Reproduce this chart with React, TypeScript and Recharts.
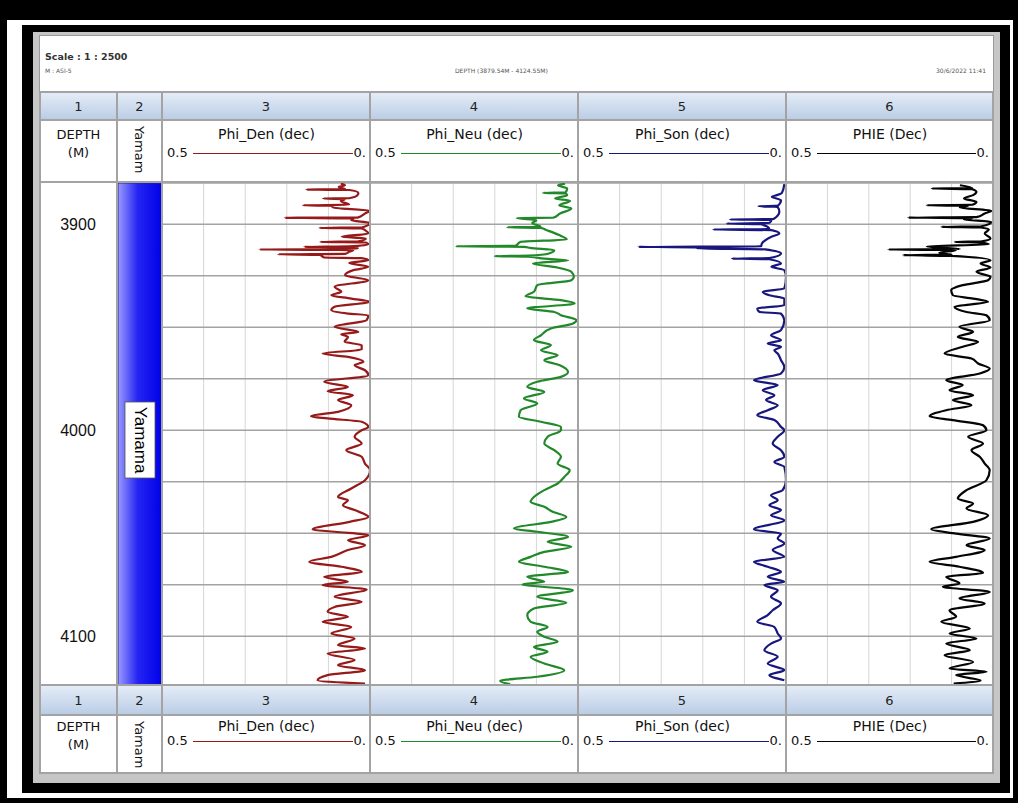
import React from "react";
import {
  CartesianGrid,
  Line,
  LineChart,
  ReferenceArea,
  XAxis,
  YAxis,
} from "recharts";

// plotted depth window (m) and grid
const depthTop = 3880;
const depthBottom = 4123.7;
const depthGrid = [3900, 3925, 3950, 3975, 4000, 4025, 4050, 4075, 4100];
const depthLabels = [3900, 4000, 4100];
const phiGrid = [0, 0.1, 0.2, 0.3, 0.4, 0.5];

const zoneName = "Yamama";
const zoneTop = 3880;
const zoneBottom = 4123.7;

const trackNumbers = ["1", "2", "3", "4", "5", "6"];
const curveNames = ["Phi_Den (dec)", "Phi_Neu (dec)", "Phi_Son (dec)", "PHIE (Dec)"];
const curveColors = ["#961a1a", "#22892a", "#17177e", "#050505"];
const scaleLeft = "0.5";
const scaleRight = "0.";

// [depth m, porosity dec]
const phiDen = [
  [3880.3, 0.07], [3881.1, 0.06], [3881.9, 0.075], [3883.0, 0.06], [3883.2, 0.153],
  [3883.4, 0.05], [3884.8, 0.028], [3885.9, 0.03], [3887.4, 0.05], [3887.5, 0.113],
  [3887.9, 0.06], [3888.7, 0.07], [3890.6, 0.05], [3890.8, 0.161], [3891.1, 0.09],
  [3891.9, 0.09], [3893.5, 0.0], [3894.8, 0.012], [3896.8, 0.03], [3896.9, 0.205],
  [3897.2, 0.04], [3898.1, 0.045], [3899.4, 0.0], [3901.6, 0.02], [3901.8, 0.121],
  [3902.1, 0.02], [3902.9, 0.012], [3904.5, 0.004], [3906.1, 0.068], [3906.9, 0.01],
  [3908.4, 0.03], [3908.6, 0.119], [3908.9, 0.01], [3909.7, 0.004], [3910.8, 0.05],
  [3911.0, 0.158], [3911.3, 0.03], [3912.1, 0.03], [3912.3, 0.266], [3912.6, 0.04],
  [3913.4, 0.05], [3914.4, 0.06], [3914.6, 0.221], [3914.9, 0.12], [3916.2, 0.11],
  [3916.5, 0.02], [3917.5, 0.004], [3918.8, 0.05], [3920.7, 0.004], [3922.3, 0.04],
  [3924.8, 0.06], [3927.2, 0.004], [3930.4, 0.085], [3932.8, 0.069],
  [3934.5, 0.093], [3936.1, 0.045], [3937.7, 0.0], [3940.1, 0.085], [3941.7, 0.093],
  [3943.4, 0.053], [3944.2, 0.004], [3946.6, 0.008], [3949.8, 0.085], [3952.3, 0.028],
  [3953.4, 0.069], [3954.7, 0.053], [3957.1, 0.061], [3958.7, 0.02], [3960.8, 0.02],
  [3962.8, 0.114], [3964.4, 0.053], [3966.8, 0.016], [3968.4, 0.037], [3970.9, 0.012],
  [3973.3, 0.004], [3976.5, 0.11], [3979.0, 0.053], [3981.1, 0.102], [3983.0, 0.041],
  [3985.4, 0.077], [3987.9, 0.045], [3991.1, 0.077], [3993.2, 0.142], [3994.3, 0.102],
  [3995.9, 0.02], [3998.4, 0.004], [4000.0, 0.02], [4003.2, 0.037], [4006.5, 0.02],
  [4009.7, 0.057], [4012.9, 0.02], [4016.2, 0.012], [4019.4, 0.0], [4024.3, 0.012],
  [4028.3, 0.045], [4032.4, 0.077], [4034.0, 0.053], [4036.4, 0.065], [4038.8, 0.037],
  [4042.1, 0.004], [4044.5, 0.049], [4048.2, 0.138], [4049.3, 0.085], [4051.0, 0.004],
  [4053.4, 0.053], [4055.8, 0.012], [4058.2, 0.053], [4061.5, 0.093], [4063.9, 0.146],
  [4066.3, 0.069], [4068.8, 0.02], [4071.2, 0.11], [4073.6, 0.053], [4075.2, 0.114],
  [4077.3, 0.008], [4080.9, 0.085], [4083.3, 0.02], [4085.8, 0.085], [4088.2, 0.102],
  [4090.6, 0.053], [4093.0, 0.114], [4095.5, 0.045], [4098.7, 0.093], [4101.1, 0.037],
  [4104.4, 0.077], [4106.0, 0.012], [4108.4, 0.102], [4111.6, 0.037], [4114.1, 0.077],
  [4116.5, 0.012], [4118.9, 0.102], [4121.4, 0.126], [4123.0, 0.012],
];

const phiNeu = [
  [3880.3, 0.031], [3881.1, 0.048], [3882.7, 0.026], [3884.6, 0.03], [3884.8, 0.084],
  [3885.1, 0.03], [3885.9, 0.026], [3887.5, 0.055], [3888.7, 0.019], [3890.8, 0.045],
  [3892.4, 0.016], [3894.8, 0.043], [3896.9, 0.06], [3897.0, 0.147], [3898.1, 0.1],
  [3899.4, 0.11], [3901.3, 0.09], [3901.5, 0.171], [3901.8, 0.09], [3902.9, 0.075],
  [3905.3, 0.045], [3907.4, 0.027], [3908.6, 0.139], [3910.5, 0.15], [3910.7, 0.292],
  [3911.0, 0.13], [3911.5, 0.115], [3912.6, 0.057], [3914.2, 0.07], [3915.3, 0.12],
  [3915.5, 0.2], [3915.8, 0.12], [3916.7, 0.081], [3917.5, 0.024], [3919.1, 0.108],
  [3921.0, 0.05], [3923.1, 0.016], [3925.6, 0.01], [3927.2, 0.016], [3929.6, 0.098],
  [3932.8, 0.106], [3935.0, 0.126], [3936.9, 0.041],
  [3938.5, 0.008], [3940.9, 0.122], [3942.6, 0.057], [3944.2, 0.041], [3946.6, 0.004],
  [3948.2, 0.012], [3950.6, 0.065], [3953.9, 0.089], [3956.3, 0.106], [3958.7, 0.065],
  [3961.2, 0.089], [3963.6, 0.049], [3966.0, 0.081], [3968.4, 0.045], [3971.7, 0.024],
  [3974.1, 0.041], [3976.5, 0.098], [3979.0, 0.122], [3981.4, 0.081], [3984.6, 0.13],
  [3987.0, 0.098], [3990.3, 0.138], [3993.5, 0.142], [3995.9, 0.089], [3998.4, 0.041],
  [4000.0, 0.041], [4003.2, 0.073], [4006.5, 0.081], [4009.7, 0.057], [4012.9, 0.041],
  [4016.2, 0.049], [4019.4, 0.02], [4022.7, 0.033], [4025.9, 0.049], [4029.1, 0.081],
  [4032.4, 0.106], [4034.8, 0.114], [4037.2, 0.081], [4039.6, 0.061], [4042.1, 0.028],
  [4044.5, 0.065], [4047.7, 0.154], [4049.3, 0.098], [4051.8, 0.024], [4054.2, 0.073],
  [4056.6, 0.016], [4059.1, 0.081], [4061.5, 0.114], [4063.9, 0.142], [4066.3, 0.081],
  [4068.8, 0.024], [4071.2, 0.122], [4073.6, 0.081], [4074.8, 0.134], [4077.7, 0.012],
  [4080.9, 0.098], [4083.8, 0.028], [4086.6, 0.106], [4089.8, 0.122], [4093.0, 0.114],
  [4095.5, 0.073], [4097.9, 0.098], [4100.3, 0.081], [4102.7, 0.049], [4105.2, 0.106],
  [4107.6, 0.073], [4110.0, 0.114], [4113.3, 0.081], [4116.5, 0.033], [4119.7, 0.098],
  [4121.7, 0.187], [4123.3, 0.163],
];

const phiSon = [
  [3880.5, 0.004], [3884.9, 0.01], [3885.9, 0.022], [3886.7, 0.034], [3888.4, 0.012],
  [3891.1, 0.02], [3891.3, 0.066], [3891.6, 0.02], [3894.0, 0.016], [3897.5, 0.03],
  [3897.7, 0.135], [3898.0, 0.035], [3899.4, 0.04], [3899.7, 0.143], [3900.0, 0.06],
  [3902.4, 0.04], [3902.6, 0.175], [3902.9, 0.035], [3904.5, 0.016], [3906.1, 0.035],
  [3909.4, 0.058], [3910.8, 0.06], [3911.0, 0.355], [3911.3, 0.2], [3911.8, 0.215],
  [3912.2, 0.05], [3914.2, 0.012], [3916.5, 0.04], [3916.7, 0.13], [3917.0, 0.04],
  [3919.1, 0.012], [3920.7, 0.035], [3922.3, 0.004], [3925.6, 0.0],
  [3931.2, 0.004], [3932.8, 0.056], [3934.5, 0.04],
  [3936.1, 0.004], [3939.3, 0.004], [3940.9, 0.069], [3942.6, 0.064], [3943.4, 0.012],
  [3946.6, 0.004], [3951.4, 0.012], [3953.9, 0.036], [3956.3, 0.012], [3957.9, 0.044],
  [3959.5, 0.012], [3961.2, 0.028], [3962.8, 0.02], [3966.0, 0.012], [3969.3, 0.004],
  [3972.5, 0.012], [3975.7, 0.077], [3978.1, 0.02], [3980.6, 0.056], [3983.0, 0.028],
  [3985.4, 0.048], [3987.9, 0.02], [3990.3, 0.044], [3992.7, 0.069], [3995.1, 0.028],
  [3998.4, 0.012], [4000.0, 0.004], [4003.2, 0.02], [4006.5, 0.032], [4009.7, 0.012],
  [4012.9, 0.004], [4015.4, 0.028], [4017.8, 0.004], [4024.3, 0.0], [4029.1, 0.008],
  [4031.6, 0.036], [4034.0, 0.02], [4036.4, 0.04], [4038.8, 0.012], [4041.3, 0.036],
  [4043.7, 0.004], [4048.2, 0.077], [4050.2, 0.012], [4052.6, 0.02], [4055.0, 0.004],
  [4058.2, 0.032], [4061.5, 0.004], [4063.9, 0.077], [4066.3, 0.044], [4068.8, 0.012],
  [4071.2, 0.044], [4073.6, 0.004], [4075.2, 0.052], [4077.7, 0.02], [4080.9, 0.036],
  [4084.1, 0.012], [4087.4, 0.032], [4089.8, 0.044], [4093.0, 0.069], [4095.5, 0.028],
  [4098.7, 0.02], [4101.1, 0.012], [4103.6, 0.036], [4106.8, 0.052], [4110.0, 0.02],
  [4113.3, 0.044], [4116.5, 0.004], [4118.9, 0.04], [4121.4, 0.004],
];

const phie = [
  [3881.1, 0.08], [3882.5, 0.05], [3882.7, 0.148], [3883.0, 0.05], [3884.3, 0.04],
  [3885.9, 0.048], [3887.5, 0.07], [3889.2, 0.04], [3890.6, 0.05], [3890.8, 0.16],
  [3891.1, 0.06], [3891.9, 0.08], [3893.5, 0.004], [3894.8, 0.02], [3896.6, 0.04],
  [3896.8, 0.205], [3897.1, 0.05], [3897.7, 0.07], [3898.9, 0.004], [3901.1, 0.03],
  [3901.3, 0.124], [3901.6, 0.03], [3902.6, 0.01], [3904.5, 0.02], [3906.9, 0.006],
  [3908.4, 0.03], [3908.6, 0.092], [3908.9, 0.03], [3909.7, 0.01], [3910.8, 0.16],
  [3912.1, 0.08], [3912.3, 0.253], [3912.6, 0.09], [3913.9, 0.13], [3914.8, 0.1],
  [3915.0, 0.217], [3915.4, 0.1], [3917.5, 0.006], [3919.1, 0.03], [3921.0, 0.006],
  [3923.1, 0.04], [3925.6, 0.006], [3927.2, 0.012], [3929.6, 0.073], [3932.0, 0.101],
  [3934.5, 0.097],
  [3936.1, 0.048], [3937.7, 0.012], [3940.1, 0.093], [3942.6, 0.064], [3944.2, 0.016],
  [3946.6, 0.008], [3949.8, 0.081], [3952.3, 0.048], [3954.7, 0.085], [3957.1, 0.036],
  [3959.5, 0.073], [3962.8, 0.117], [3965.2, 0.052], [3967.6, 0.036], [3970.1, 0.008],
  [3972.5, 0.032], [3975.7, 0.113], [3978.1, 0.073], [3980.6, 0.105], [3983.0, 0.048],
  [3985.4, 0.097], [3987.9, 0.052], [3990.3, 0.113], [3993.2, 0.153], [3995.1, 0.097],
  [3997.6, 0.024], [4000.0, 0.016], [4003.2, 0.06], [4006.5, 0.024], [4009.7, 0.052],
  [4012.9, 0.032], [4016.2, 0.02], [4019.4, 0.008], [4024.3, 0.016], [4029.1, 0.064],
  [4033.2, 0.085], [4035.6, 0.048], [4038.0, 0.064], [4041.3, 0.012], [4044.5, 0.048],
  [4048.1, 0.149], [4050.2, 0.089], [4052.6, 0.008], [4055.8, 0.064], [4058.2, 0.02],
  [4061.5, 0.089], [4063.9, 0.153], [4066.3, 0.081], [4069.3, 0.024], [4071.2, 0.113],
  [4074.4, 0.081], [4076.0, 0.121], [4078.5, 0.008], [4081.7, 0.081], [4084.1, 0.02],
  [4087.4, 0.105], [4090.6, 0.089], [4093.0, 0.125], [4096.3, 0.056], [4098.7, 0.105],
  [4101.1, 0.04], [4103.6, 0.113], [4106.8, 0.056], [4109.2, 0.117], [4112.5, 0.048],
  [4115.7, 0.105], [4117.3, 0.016], [4118.9, 0.089], [4121.5, 0.03], [4123.0, 0.095],
];

const curves = [phiDen, phiNeu, phiSon, phie];

// layout
const colX = [40, 117, 162, 370, 578, 786, 993];
const plotTop = 183;
const plotH = 502;
const gridLine = "#a3a3a3";

const toRows = (log: number[][]) => log.map(([depth, phi]) => ({ depth, phi }));

function CurveTrack({ log, color, width }: { log: number[][]; color: string; width: number }) {
  return (
    <LineChart
      width={width}
      height={plotH}
      data={toRows(log)}
      layout="vertical"
      margin={{ top: 0, right: 0, bottom: 0, left: 0 }}
    >
      <CartesianGrid horizontal={false} stroke="#d6d6d6" strokeWidth={1} />
      <CartesianGrid vertical={false} stroke={gridLine} strokeWidth={1.5} />
      <XAxis type="number" domain={[0, 0.5]} ticks={phiGrid} reversed hide allowDataOverflow />
      <YAxis
        type="number"
        dataKey="depth"
        domain={[depthTop, depthBottom]}
        ticks={depthGrid}
        hide
        allowDataOverflow
      />
      <Line
        type="monotone"
        dataKey="phi"
        stroke={color}
        strokeWidth={2.2}
        strokeLinejoin="round"
        dot={false}
        isAnimationActive={false}
      />
    </LineChart>
  );
}

function DepthTick(props: any) {
  const { y, payload } = props;
  return (
    <text
      x={38}
      y={y}
      textAnchor="middle"
      dominantBaseline="central"
      fontSize={16}
      fontFamily="Liberation Sans, Arial, sans-serif"
      fill="#111"
    >
      {payload.value}
    </text>
  );
}

function ZoneLabel(props: any) {
  const { viewBox } = props;
  if (!viewBox) return null;
  const cx = viewBox.x + viewBox.width / 2;
  const cy = viewBox.y + viewBox.height / 2 + 6;
  return (
    <g>
      <rect x={cx - 15} y={cy - 38} width={30} height={76} fill="#fff" stroke="#555" strokeWidth={0.8} />
      <text
        x={cx}
        y={cy}
        transform={`rotate(90 ${cx} ${cy})`}
        textAnchor="middle"
        dominantBaseline="central"
        fontSize={17}
        fontFamily="Liberation Sans, Arial, sans-serif"
        fill="#000"
      >
        {zoneName}
      </text>
    </g>
  );
}

function HeaderRows({ top, numH, labH, nameOff, scaleOff }: any) {
  const labTop = top + numH;
  return (
    <>
      <div
        style={{
          position: "absolute",
          left: colX[0],
          top,
          width: colX[6] - colX[0],
          height: numH,
          background: "linear-gradient(#e4ecf7, #b9cce5)",
        }}
      />
      {trackNumbers.map((n, i) => (
        <div
          key={"n" + n}
          style={{
            position: "absolute",
            left: colX[i],
            width: colX[i + 1] - colX[i],
            top,
            height: numH,
            lineHeight: numH + "px",
            textAlign: "center",
            fontSize: 13,
            color: "#222",
          }}
        >
          {n}
        </div>
      ))}
      <div
        style={{
          position: "absolute",
          left: colX[0],
          width: colX[1] - colX[0],
          top: labTop + nameOff - 8,
          textAlign: "center",
          fontSize: 13,
          lineHeight: "18px",
          color: "#111",
        }}
      >
        DEPTH
        <br />
        (M)
      </div>
      <div
        style={{
          position: "absolute",
          left: colX[1],
          width: colX[2] - colX[1],
          top: labTop + 6,
          display: "flex",
          justifyContent: "center",
        }}
      >
        <span style={{ writingMode: "vertical-rl", fontSize: 13, color: "#111" }}>Yamam</span>
      </div>
      {curveNames.map((name, i) => (
        <div
          key={name}
          style={{
            position: "absolute",
            left: colX[i + 2] + 5,
            width: colX[i + 3] - colX[i + 2] - 9,
            top: labTop,
            height: labH,
            color: "#111",
          }}
        >
          <div
            style={{
              position: "absolute",
              left: 0,
              right: 0,
              top: nameOff - 8,
              textAlign: "center",
              fontSize: 14,
              lineHeight: "16px",
            }}
          >
            {name}
          </div>
          <div
            style={{
              position: "absolute",
              left: 0,
              right: 0,
              top: scaleOff - 8,
              display: "flex",
              alignItems: "center",
              fontSize: 13,
              lineHeight: "16px",
            }}
          >
            <span>{scaleLeft}</span>
            <span
              style={{
                flex: 1,
                height: 0,
                borderTop: `1.5px solid ${curveColors[i]}`,
                margin: "0 1px 0 5px",
              }}
            />
            <span>{scaleRight}</span>
          </div>
        </div>
      ))}
      <div
        style={{
          position: "absolute",
          left: colX[0],
          width: colX[6] - colX[0],
          top: labTop - 1,
          height: 2,
          background: gridLine,
        }}
      />
    </>
  );
}

export default function App() {
  const hLines = [92, plotTop - 1, plotTop + plotH, 773];
  const zoneRows = [{ depth: zoneTop }, { depth: zoneBottom }];
  return (
    <div
      style={{
        position: "absolute",
        left: 0,
        top: 0,
        width: 1018,
        height: 803,
        background: "#000",
        fontFamily: "DejaVu Sans, Verdana, sans-serif",
        overflow: "hidden",
      }}
    >
      <div style={{ position: "absolute", left: 7, top: 20, width: 1006, height: 778, background: "#fff" }} />
      <div style={{ position: "absolute", left: 22, top: 25, width: 988, height: 768, background: "#000" }} />
      <div style={{ position: "absolute", left: 33, top: 32, width: 967, height: 751, background: "#c6c6c6" }} />
      <div
        style={{
          position: "absolute",
          left: colX[0],
          top: 36,
          width: colX[6] - colX[0],
          height: 737,
          background: "#fff",
          outline: "1px solid #9a9a9a",
        }}
      />

      {/* page header */}
      <div style={{ position: "absolute", left: 45, top: 51, fontSize: 9.5, fontWeight: "bold", color: "#333" }}>
        Scale : 1 : 2500
      </div>
      <div style={{ position: "absolute", left: 45, top: 67, fontSize: 6, color: "#555" }}>M : ASI-5</div>
      <div style={{ position: "absolute", left: 455, top: 67, fontSize: 6, color: "#555" }}>
        DEPTH (3879.54M - 4124.55M)
      </div>
      <div
        style={{
          position: "absolute",
          right: 1018 - 986,
          top: 67,
          fontSize: 6,
          color: "#555",
          whiteSpace: "nowrap",
        }}
      >
        30/6/2022 11:41
      </div>

      <HeaderRows top={93} numH={27} labH={61} nameOff={14} scaleOff={33} />
      <HeaderRows top={686} numH={29} labH={57} nameOff={11} scaleOff={26} />

      {/* depth track */}
      <div style={{ position: "absolute", left: colX[0], top: plotTop }}>
        <LineChart
          width={colX[1] - colX[0]}
          height={plotH}
          data={[]}
          layout="vertical"
          margin={{ top: 0, right: 0, bottom: 0, left: 0 }}
        >
          <XAxis type="number" domain={[0, 1]} hide allowDataOverflow />
          <YAxis
            type="number"
            dataKey="depth"
            domain={[depthTop, depthBottom]}
            ticks={depthLabels}
            mirror
            width={1}
            axisLine={false}
            tickLine={false}
            tick={<DepthTick />}
            allowDataOverflow
          />
        </LineChart>
      </div>

      {/* zone track */}
      <div style={{ position: "absolute", left: colX[1] + 1, top: plotTop }}>
        <LineChart
          width={colX[2] - colX[1] - 1}
          height={plotH}
          data={zoneRows}
          layout="vertical"
          margin={{ top: 0, right: 0, bottom: 0, left: 0 }}
        >
          <defs>
            <linearGradient id="zoneFill" x1="0" y1="0" x2="1" y2="0">
              <stop offset="0" stopColor="#9a9aff" />
              <stop offset="0.45" stopColor="#2424f2" />
              <stop offset="1" stopColor="#0000e8" />
            </linearGradient>
          </defs>
          <XAxis type="number" domain={[0, 1]} hide allowDataOverflow />
          <YAxis type="number" dataKey="depth" domain={[depthTop, depthBottom]} hide allowDataOverflow />
          <ReferenceArea
            x1={0}
            x2={1}
            y1={zoneTop}
            y2={zoneBottom}
            fill="url(#zoneFill)"
            fillOpacity={1}
            stroke="#2a2a90"
            strokeWidth={1}
            ifOverflow="visible"
            label={<ZoneLabel />}
          />
        </LineChart>
      </div>

      {/* curve tracks */}
      {curves.map((log, i) => (
        <div key={curveNames[i]} style={{ position: "absolute", left: colX[i + 2], top: plotTop }}>
          <CurveTrack log={log} color={curveColors[i]} width={colX[i + 3] - colX[i + 2]} />
        </div>
      ))}

      {/* borders */}
      {hLines.map((y) => (
        <div
          key={"h" + y}
          style={{
            position: "absolute",
            left: colX[0],
            top: y - 1,
            width: colX[6] - colX[0],
            height: 2,
            background: gridLine,
          }}
        />
      ))}
      {colX.map((x) => (
        <div
          key={"v" + x}
          style={{ position: "absolute", left: x - 1, top: 92, width: 2, height: 681, background: gridLine }}
        />
      ))}
    </div>
  );
}
